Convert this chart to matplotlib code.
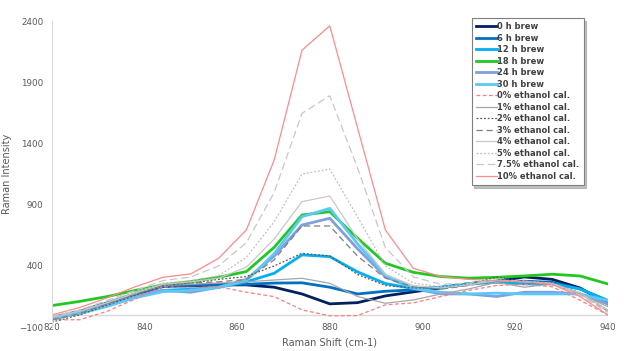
import matplotlib.pyplot as plt

shift = [820, 826, 832, 838, 844, 850, 856, 862, 868, 874, 880,
         886, 892, 898, 904, 910, 916, 922, 928, 934, 940]

brew_labels = ['0 h brew', '6 h brew', '12 h brew', '18 h brew', '24 h brew', '30 h brew']
brew_0h = [-35, 20, 90, 170, 237, 237, 245, 245, 226, 171, 90,
           100, 155, 188, 220, 256, 275, 310, 290, 220, 90]
brew_6h = [-20, 30, 100, 170, 230, 240, 248, 250, 260, 262, 226,
           171, 193, 204, 226, 253, 275, 275, 266, 212, 117]
brew_12h = [-25, 20, 80, 150, 200, 210, 225, 270, 340, 490, 476,
            351, 256, 215, 226, 253, 266, 253, 253, 212, 117]
brew_18h = [76, 110, 150, 200, 245, 272, 307, 354, 552, 816, 843,
            626, 422, 348, 313, 300, 307, 318, 332, 318, 253]
brew_24h = [-20, 20, 80, 150, 200, 185, 225, 290, 480, 734, 789,
            540, 313, 215, 171, 171, 150, 185, 185, 171, 90]
brew_30h = [-30, 10, 70, 140, 190, 200, 225, 280, 500, 802, 870,
            580, 326, 218, 185, 171, 178, 171, 171, 171, 117]

cal_labels = ['0% ethanol cal.', '1% ethanol cal.', '2% ethanol cal.', '3% ethanol cal.',
              '4% ethanol cal.', '5% ethanol cal.', '7.5% ethanol cal.', '10% ethanol cal.']
cal_0 = [-40, -40, 30, 130, 230, 220, 230, 185, 149, 41, -8,
         -5, 82, 98, 150, 200, 240, 250, 230, 120, 0]
cal_1 = [-20, 30, 100, 170, 240, 250, 260, 270, 285, 299, 258,
         150, 95, 122, 171, 212, 266, 226, 253, 171, 68]
cal_2 = [-60, 0, 80, 160, 240, 260, 290, 313, 400, 503, 481,
         330, 240, 220, 220, 250, 310, 270, 250, 180, 40]
cal_3 = [-40, 10, 90, 170, 245, 260, 270, 290, 450, 726, 726,
         480, 300, 230, 210, 240, 280, 270, 260, 180, 30]
cal_4 = [-20, 30, 100, 180, 250, 270, 300, 390, 620, 925, 971,
         620, 330, 240, 220, 245, 280, 270, 255, 180, 40]
cal_5 = [-20, 30, 110, 190, 260, 280, 320, 470, 760, 1150, 1191,
         800, 400, 260, 230, 250, 285, 275, 260, 170, 30]
cal_75 = [-10, 40, 120, 200, 280, 310, 400, 590, 1000, 1646, 1790,
          1200, 550, 310, 250, 260, 285, 275, 255, 160, 20]
cal_10 = [0, 60, 140, 230, 307, 335, 462, 694, 1265, 2162, 2361,
          1527, 694, 381, 313, 290, 280, 270, 250, 150, 0]

brew_data = [brew_0h, brew_6h, brew_12h, brew_18h, brew_24h, brew_30h]
brew_colors = ['#002060', '#0070C0', '#00B0F0', '#22C822', '#7F9FDF', '#5BC8F8']

cal_data = [cal_0, cal_1, cal_2, cal_3, cal_4, cal_5, cal_75, cal_10]
cal_colors = ['#FF7C80', '#A6A6A6', '#595959', '#7F7F7F', '#C8C8C8', '#BFBFBF', '#C8C8C8', '#FF8A8C']
cal_styles = [(0, (3, 2)), '-', (0, (1.5, 1.5)), (0, (5, 3)), '-', (0, (1.5, 1.5)), (0, (6, 3)), '-']

fig = plt.figure(figsize=(6.24, 3.51), dpi=100)
ax = fig.add_axes([0.083, 0.068, 0.891, 0.872])

for vals, col, lab in zip(brew_data, brew_colors, brew_labels):
    ax.plot(shift, vals, color=col, lw=2.0, label=lab)
for vals, col, ls, lab in zip(cal_data, cal_colors, cal_styles, cal_labels):
    ax.plot(shift, vals, color=col, lw=0.9, ls=ls, label=lab)

ax.set_xlim(820, 940)
ax.set_ylim(-100, 2400)
ax.set_xticks([820, 840, 860, 880, 900, 920, 940])
ax.set_yticks([-100, 400, 900, 1400, 1900, 2400])
ax.axhline(0, color='#D9D9D9', lw=1.0, zorder=0)

for s in ['top', 'right', 'bottom']:
    ax.spines[s].set_visible(False)
ax.spines['left'].set_color('#D9D9D9')
ax.tick_params(axis='both', length=0, labelsize=6.3, labelcolor='#595959')
ax.tick_params(axis='x', pad=-3)
ax.tick_params(axis='y', pad=6)

ax.set_xlabel('Raman Shift (cm-1)', fontsize=7, color='#595959', labelpad=4)
ax.set_ylabel('Raman Intensity', fontsize=7, color='#595959', labelpad=5)

leg = ax.legend(loc='upper left', bbox_to_anchor=(0.755, 1.01), fontsize=6.0,
                frameon=True, fancybox=False,
                shadow={'color': '#999999', 'alpha': 0.6, 'ox': 2, 'oy': -2},
                handlelength=2.6, handletextpad=0.0, labelspacing=0.3, borderpad=0.5,
                borderaxespad=0)
leg.get_frame().set_edgecolor('#7F7F7F')
leg.get_frame().set_linewidth(0.8)
for t in leg.get_texts():
    t.set_color('#404040')
    t.set_fontweight('bold')

fig.savefig('out.png', dpi=100)
